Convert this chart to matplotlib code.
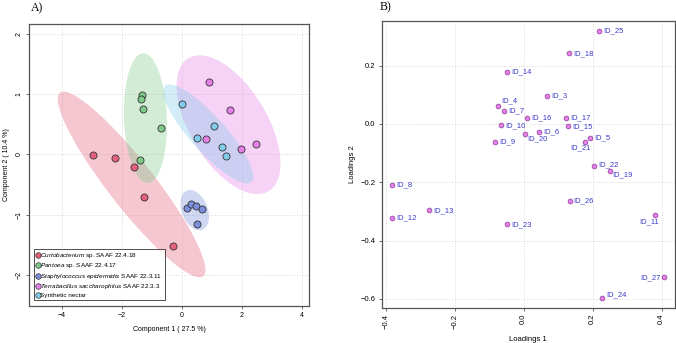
"""Sample PCA plot (A) with 95% ellipses and loadings plot (B)."""
import numpy as np
import matplotlib as mpl
import matplotlib.pyplot as plt
from matplotlib.patches import Ellipse
from matplotlib.lines import Line2D

mpl.rcParams.update({
    "font.family": "Liberation Sans", "font.size": 6,
    "mathtext.fontset": "custom",
    "mathtext.it": "Liberation Sans:italic",
    "mathtext.rm": "Liberation Sans",
})

# ---- panel A: sample scores per group ----
groups = ["Curtobacterium", "Pantoea", "Staphylococcus", "Terrabacillus", "Synthetic"]
group_labels = [
    r"$\it{Curtobacterium}$ sp. SAAF 22.4.18",
    r"$\it{Pantoea}$ sp. SAAF 22.4.17",
    r"$\it{Staphylococcus\ epidermidis}$ SAAF 22.3.11",
    r"$\it{Terrabacillus\ saccharophilus}$ SAAF 22.3.3",
    "Synthetic nectar",
]
comp1 = {
    "Curtobacterium": [-2.97, -2.23, -1.59, -1.27, -0.30],
    "Pantoea": [-1.32, -1.35, -1.29, -0.69, -1.40],
    "Staphylococcus": [0.17, 0.32, 0.47, 0.68, 0.52],
    "Terrabacillus": [0.91, 1.61, 0.81, 1.99, 2.47],
    "Synthetic": [0.00, 0.52, 1.08, 1.34, 1.47],
}
comp2 = {
    "Curtobacterium": [-0.01, -0.06, -0.21, -0.70, -1.51],
    "Pantoea": [0.98, 0.92, 0.75, 0.44, -0.09],
    "Staphylococcus": [-0.88, -0.82, -0.85, -0.90, -1.16],
    "Terrabacillus": [1.20, 0.74, 0.26, 0.09, 0.17],
    "Synthetic": [0.84, 0.28, 0.47, 0.12, -0.02],
}
pt_colors = ["#E5607C", "#7FC98A", "#7A8EDB", "#E680E6", "#80CCEA"]

# ---- panel B: variable loadings ----
var_ids = ["ID_25", "ID_18", "ID_14", "ID_3", "ID_4", "ID_7", "ID_16", "ID_17",
           "ID_10", "ID_15", "ID_6", "ID_20", "ID_5", "ID_21", "ID_9", "ID_22",
           "ID_19", "ID_8", "ID_26", "ID_13", "ID_12", "ID_23", "ID_11", "ID_27",
           "ID_24"]
load1 = [0.218, 0.131, -0.048, 0.067, -0.074, -0.057, 0.010, 0.123,
         -0.065, 0.128, 0.044, 0.004, 0.193, 0.179, -0.083, 0.204,
         0.251, -0.382, 0.133, -0.274, -0.381, -0.048, 0.380, 0.408,
         0.228]
load2 = [0.319, 0.242, 0.179, 0.095, 0.063, 0.046, 0.021, 0.022,
         -0.005, -0.008, -0.026, -0.034, -0.049, -0.061, -0.062, -0.143,
         -0.162, -0.208, -0.264, -0.296, -0.323, -0.344, -0.313, -0.526,
         -0.596]

CHI = np.sqrt(5.991)  # 95% level, 2 dof


def conf_ellipse(ax, x, y, color):
    x, y = np.asarray(x), np.asarray(y)
    cov = np.cov(x, y)
    vals, vecs = np.linalg.eigh(cov)
    ang = np.degrees(np.arctan2(vecs[1, 1], vecs[0, 1]))
    w, h = 2 * CHI * np.sqrt(vals[1]), 2 * CHI * np.sqrt(vals[0])
    ax.add_patch(Ellipse((x.mean(), y.mean()), w, h, angle=ang,
                         facecolor=color, edgecolor="none", alpha=0.35, zorder=1))


def style_box(ax):
    for s in ax.spines.values():
        s.set_color("#555555")
        s.set_linewidth(0.9)
    ax.grid(color="#d8d8d8", linestyle=":", linewidth=0.7)
    ax.set_axisbelow(True)
    ax.tick_params(length=2.5, width=0.6, color="#555555", pad=2)


fig = plt.figure(figsize=(6.76, 3.43), dpi=100)

axA = fig.add_axes([0.0429, 0.1079, 0.4142, 0.8222])
for g, c in zip(groups, pt_colors):
    conf_ellipse(axA, comp1[g], comp2[g], c)
for g, c in zip(groups, pt_colors):
    axA.scatter(comp1[g], comp2[g], s=26, facecolor=c, edgecolor="#333333",
                linewidth=0.6, zorder=3)
axA.set_xlim(-5.09, 4.24)
axA.set_ylim(-2.51, 2.16)
axA.set_xticks([-4, -2, 0, 2, 4])
axA.set_yticks([-2, -1, 0, 1, 2])
axA.tick_params(labelsize=5)
for lab in axA.get_yticklabels():
    lab.set_rotation(90)
    lab.set_va("center")
axA.set_xlabel("Component 1 ( 27.5 %)", fontsize=5, labelpad=5)
axA.set_ylabel("Component 2 ( 10.4 %)", fontsize=5, labelpad=4)
style_box(axA)
handles = [Line2D([], [], marker="o", linestyle="none", markersize=4,
                  markerfacecolor=c, markeredgecolor="#333333",
                  markeredgewidth=0.5) for c in pt_colors]
leg = axA.legend(handles, group_labels, loc="lower left",
                 bbox_to_anchor=(0.018, 0.02), fontsize=4.6, frameon=True,
                 fancybox=False, handlelength=0.5, handletextpad=0.15,
                 labelspacing=0.22, borderpad=0.35, borderaxespad=0)
leg.get_frame().set_edgecolor("#222222")
leg.get_frame().set_linewidth(0.7)
fig.text(0.045, 0.977, "A)", family="Liberation Serif", fontsize=8.5,
         va="center")

axB = fig.add_axes([0.5646, 0.1029, 0.4340, 0.8367])
axB.scatter(load1, load2, s=12, facecolor="#E680E6", edgecolor="#8A3C9A",
            linewidth=0.5, zorder=3)
offsets = {"ID_4": (2, 3.4, "left"), "ID_21": (-11, -4.5, "left"),
           "ID_20": (1.5, -3.5, "left"), "ID_19": (1.5, -2.5, "left"),
           "ID_11": (-11, -5, "left"), "ID_27": (-3, 0, "right"),
           "ID_24": (3, 2.5, "left"), "ID_22": (3, 1, "left")}
for name, x, y in zip(var_ids, load1, load2):
    dx, dy, ha = offsets.get(name, (3, 0, "left"))
    axB.annotate(name, (x, y), xytext=(dx, dy), textcoords="offset points",
                 fontsize=5.5, color="#3A3ACC", ha=ha, va="center")
axB.set_xlim(-0.4116, 0.439)
axB.set_ylim(-0.630, 0.354)
axB.set_xticks([-0.4, -0.2, 0.0, 0.2, 0.4])
axB.set_yticks([-0.6, -0.4, -0.2, 0.0, 0.2])
axB.tick_params(labelsize=5.5)
for lab in axB.get_xticklabels():
    lab.set_rotation(90)
axB.set_xlabel("Loadings 1", fontsize=5.5, labelpad=5)
axB.set_ylabel("Loadings 2", fontsize=5.5, labelpad=3)
style_box(axB)
fig.text(0.562, 0.98, "B)", family="Liberation Serif", fontsize=8.5,
         va="center")

fig.savefig("out.png", dpi=100, facecolor="white")
